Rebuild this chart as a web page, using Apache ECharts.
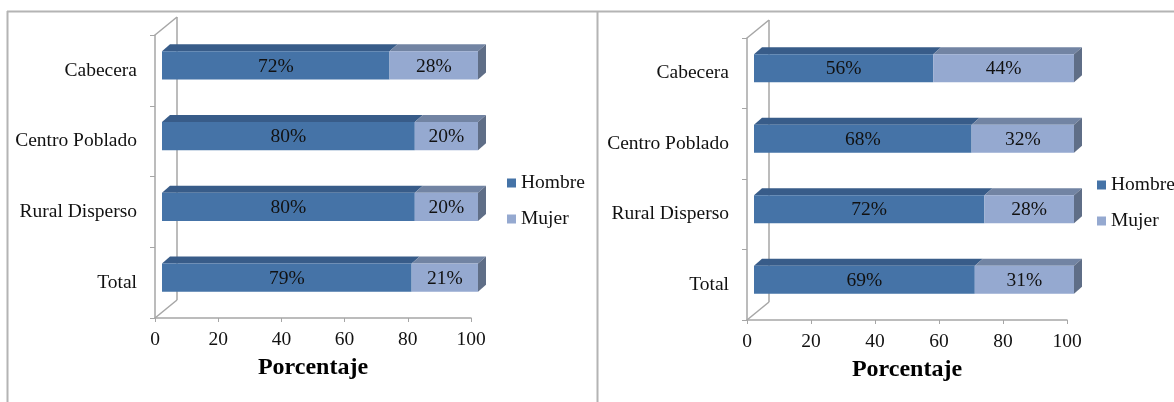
<!DOCTYPE html>
<html>
<head>
<meta charset="utf-8">
<script src="https://cdn.jsdelivr.net/npm/echarts@6/dist/echarts.min.js"></script>
<style>
  html, body { margin: 0; padding: 0; background: #fff; }
  #chart { width: 1174px; height: 402px; }
</style>
</head>
<body>
<div id="chart"></div>
<script>
// datos
const categorias = ['Cabecera', 'Centro Poblado', 'Rural Disperso', 'Total']
const hombreIzq = [72, 80, 80, 79]
const mujerIzq = [28, 20, 20, 21]
const hombreDer = [56, 68, 72, 69]
const mujerDer = [44, 32, 28, 31]

const FONT = '"Liberation Serif", "Times New Roman", serif'
const FS = 19.5
const TEXT = '#111'
const GRIS = '#a6a6a6'
const colores = {
  Hombre: { front: '#4573a7', top: '#385c89' },
  Mujer: { front: '#95a9d0', top: '#7284a3' }
}
const LADO = '#5f6e87'
// desplazamiento 3D
const OFF_X = 7, OFF_Y = -5, DX = 8, DY = -7
const WALL_X = 22, WALL_Y = -18

function datosSerie(hombre, mujer, cual) {
  return hombre.map((h, i) => cual === 'Hombre' ? [0, h, i] : [h, h + mujer[i], i])
}

function barra3d(params, api) {
  const start = api.value(0)
  const end = api.value(1)
  const idx = api.value(2)
  const p0 = api.coord([start, idx])
  const p1 = api.coord([end, idx])
  const band = api.size([0, 1])[1]
  const h = band * 0.4
  const x0 = p0[0] + OFF_X
  const x1 = p1[0] + OFF_X
  const yTop = p0[1] + OFF_Y - h / 2
  const yBot = yTop + h
  const c = colores[params.seriesName]
  const children = [
    {
      type: 'polygon',
      shape: { points: [[x0, yTop], [x1, yTop], [x1 + DX, yTop + DY], [x0 + DX, yTop + DY]] },
      style: { fill: c.top }
    },
    {
      type: 'rect',
      shape: { x: x0, y: yTop, width: x1 - x0, height: h },
      style: { fill: c.front }
    },
    {
      type: 'text',
      x: (x0 + x1) / 2,
      y: (yTop + yBot) / 2 + 1,
      style: {
        text: Math.round(end - start) + '%',
        fill: TEXT,
        font: FS + 'px ' + FONT,
        align: 'center',
        verticalAlign: 'middle'
      }
    }
  ]
  if (params.seriesName === 'Mujer') {
    children.push({
      type: 'polygon',
      shape: { points: [[x1, yTop], [x1 + DX, yTop + DY], [x1 + DX, yBot + DY], [x1, yBot]] },
      style: { fill: LADO }
    })
  }
  return { type: 'group', children: children }
}

function pared(params) {
  const cs = params.coordSys
  const ls = { stroke: GRIS, lineWidth: 1.5 }
  return {
    type: 'group',
    children: [
      { type: 'line', shape: { x1: cs.x, y1: cs.y, x2: cs.x + WALL_X, y2: cs.y + WALL_Y }, style: ls },
      { type: 'line', shape: { x1: cs.x + WALL_X, y1: cs.y + WALL_Y, x2: cs.x + WALL_X, y2: cs.y + cs.height + WALL_Y }, style: ls },
      { type: 'line', shape: { x1: cs.x, y1: cs.y + cs.height, x2: cs.x + WALL_X, y2: cs.y + cs.height + WALL_Y }, style: ls }
    ]
  }
}

function ejeX(i) {
  return {
    type: 'value',
    gridIndex: i,
    min: 0,
    max: 100,
    interval: 20,
    name: 'Porcentaje',
    nameLocation: 'middle',
    nameGap: 38,
    nameTextStyle: { fontFamily: FONT, fontWeight: 'bold', fontSize: 24, color: '#000' },
    axisLine: { show: true, lineStyle: { color: GRIS, width: 1.5 } },
    axisTick: { show: true, length: 4, lineStyle: { color: GRIS } },
    splitLine: { show: false },
    axisLabel: { fontFamily: FONT, fontSize: FS, color: TEXT, margin: 12 }
  }
}

function ejeY(i) {
  return {
    type: 'category',
    gridIndex: i,
    data: categorias,
    inverse: true,
    axisLine: { show: true, lineStyle: { color: GRIS, width: 1.5 } },
    axisTick: { show: true, length: 5, lineStyle: { color: GRIS } },
    axisLabel: { fontFamily: FONT, fontSize: FS, color: TEXT, margin: 18 }
  }
}

function series(i, hombre, mujer) {
  return [
    {
      type: 'custom',
      name: 'pared' + i,
      xAxisIndex: i,
      yAxisIndex: i,
      renderItem: pared,
      data: [[0, 0]],
      z: 1,
      silent: true
    },
    {
      type: 'custom',
      name: 'Hombre',
      xAxisIndex: i,
      yAxisIndex: i,
      renderItem: barra3d,
      encode: { x: [0, 1], y: 2 },
      itemStyle: { color: colores.Hombre.front },
      data: datosSerie(hombre, mujer, 'Hombre'),
      z: 3
    },
    {
      type: 'custom',
      name: 'Mujer',
      xAxisIndex: i,
      yAxisIndex: i,
      renderItem: barra3d,
      encode: { x: [0, 1], y: 2 },
      itemStyle: { color: colores.Mujer.front },
      data: datosSerie(hombre, mujer, 'Mujer'),
      z: 3
    }
  ]
}

function leyenda(left, top) {
  return {
    data: ['Hombre', 'Mujer'],
    orient: 'vertical',
    left: left,
    top: top,
    icon: 'rect',
    itemWidth: 9,
    itemHeight: 9,
    itemGap: 16,
    textStyle: { fontFamily: FONT, fontSize: FS, color: TEXT }
  }
}

const chart = echarts.init(document.getElementById('chart'))
chart.setOption({
  animation: false,
  backgroundColor: '#fff',
  grid: [
    { left: 155, top: 35, width: 316, height: 283 },
    { left: 747, top: 38, width: 320, height: 282 }
  ],
  xAxis: [ejeX(0), ejeX(1)],
  yAxis: [ejeY(0), ejeY(1)],
  legend: [leyenda(502, 168), leyenda(1092, 170)],
  graphic: [
    { type: 'line', shape: { x1: 7, y1: 11.5, x2: 1174, y2: 11.5 }, style: { stroke: '#b4b4b4', lineWidth: 2 } },
    { type: 'line', shape: { x1: 7.5, y1: 11, x2: 7.5, y2: 402 }, style: { stroke: '#b4b4b4', lineWidth: 2 } },
    { type: 'line', shape: { x1: 597.5, y1: 11, x2: 597.5, y2: 402 }, style: { stroke: '#b4b4b4', lineWidth: 2 } }
  ],
  series: series(0, hombreIzq, mujerIzq).concat(series(1, hombreDer, mujerDer))
})
</script>
</body>
</html>
